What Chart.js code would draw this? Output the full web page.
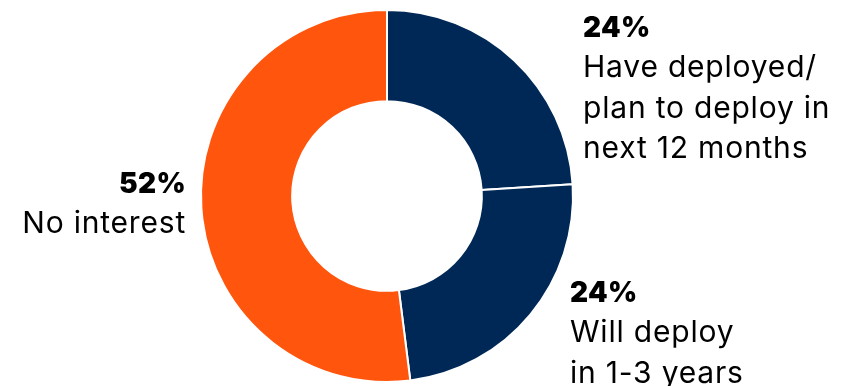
<!DOCTYPE html>
<html lang="en">
<head>
  <meta charset="UTF-8" />
  <title>Deployment plans</title>
  <script src="https://cdn.jsdelivr.net/npm/chart.js"></script>
  <style>
    * { box-sizing: border-box; margin: 0; padding: 0; }
    body { background: #fff; width: 841px; height: 386px; overflow: hidden; }
    .wrap { position: relative; width: 841px; height: 386px; }
  </style>
</head>
<body>
  <div class="wrap">
    <canvas id="grafico" width="841" height="386"></canvas>
  </div>

<script>
  const categorias = [
    ["Have deployed/", "plan to deploy in", "next 12 months"],
    ["Will deploy", "in 1-3 years"],
    ["No interest"]
  ];
  const valores = [24, 24, 52];
  const cores = ["#002856", "#002856", "#ff550d"];

  // where each label block sits: x, baseline of the percentage, alignment
  const posicoes = [
    { x: 583, y: 37, align: "left" },
    { x: 570, y: 302, align: "left" },
    { x: 186, y: 193, align: "right" }
  ];

  const rotulos = {
    id: "rotulos",
    afterDraw(chart) {
      const ctx = chart.ctx;
      ctx.save();
      ctx.fillStyle = "#000";
      ctx.textBaseline = "alphabetic";
      valores.forEach((v, i) => {
        const p = posicoes[i];
        ctx.textAlign = p.align;
        ctx.letterSpacing = "0.3px";
        ctx.font = "900 28px Inter";
        ctx.fillText(v + "%", p.x, p.y);
        ctx.letterSpacing = "0.8px";
        ctx.font = "400 30px Inter";
        categorias[i].forEach((linha, j) => {
          ctx.fillText(linha, p.x, p.y + 40 + j * 40.5);
        });
      });
      ctx.restore();
    }
  };

  new Chart(document.getElementById("grafico"), {
    type: "doughnut",
    data: {
      labels: categorias.map(c => c.join(" ")),
      datasets: [{
        data: valores,
        backgroundColor: cores,
        borderColor: "#fff",
        borderWidth: 2
      }]
    },
    options: {
      responsive: false,
      animation: false,
      cutout: "51%",
      layout: { padding: { left: 200, right: 267, top: 9, bottom: 3 } },
      plugins: {
        legend: { display: false },
        tooltip: { enabled: false }
      }
    },
    plugins: [rotulos]
  });
</script>
</body>
</html>
